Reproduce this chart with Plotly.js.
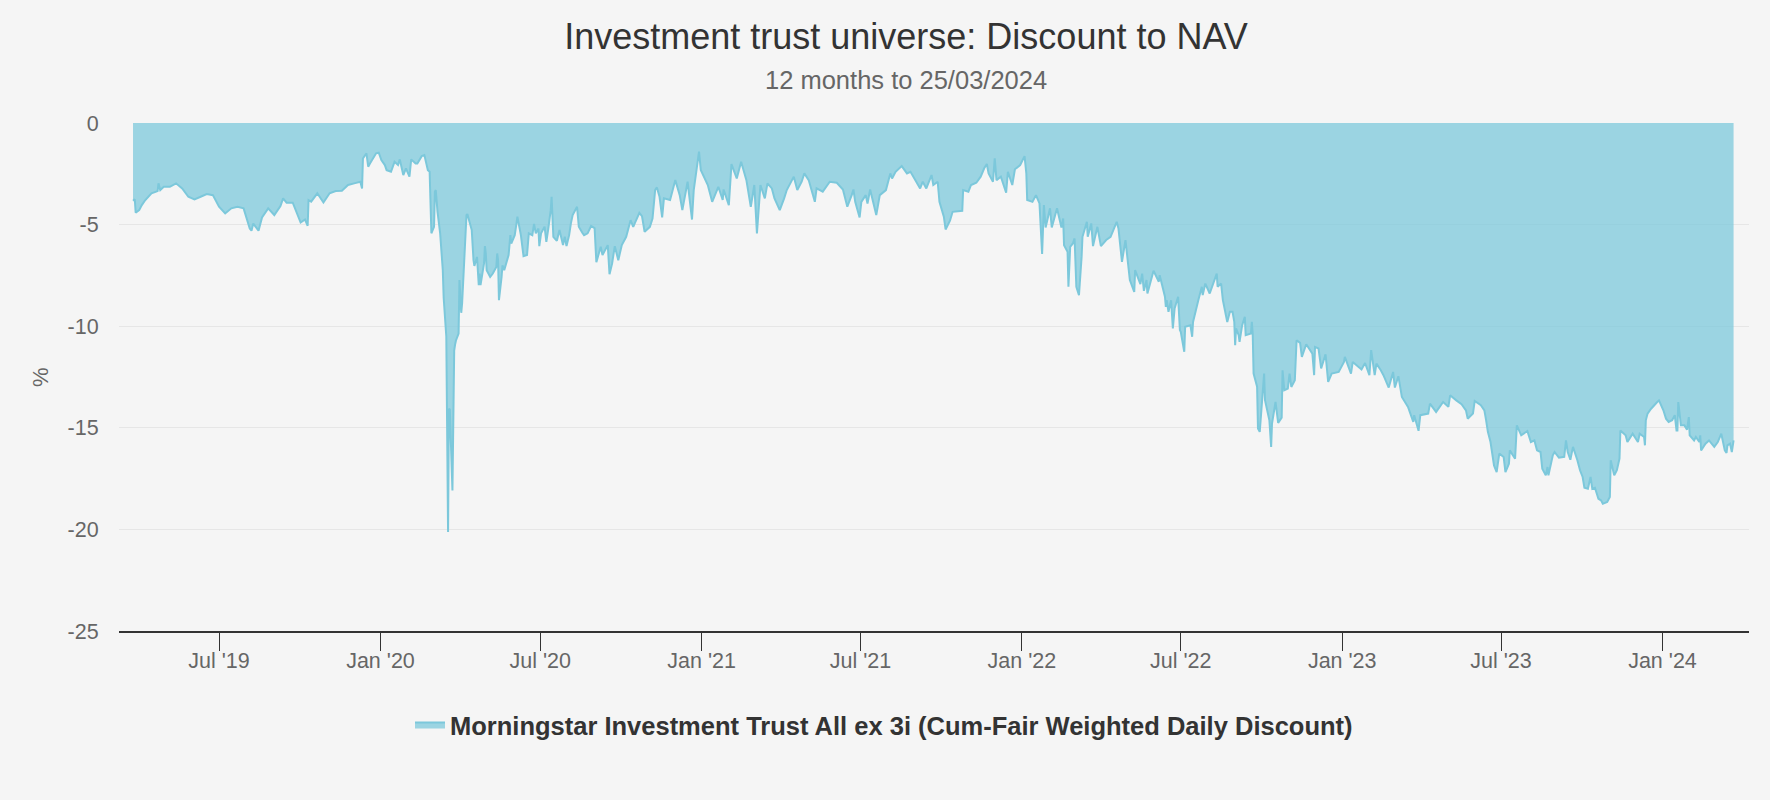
<!DOCTYPE html>
<html>
<head>
<meta charset="utf-8">
<script src="https://cdn.plot.ly/plotly-3.0.1.min.js"></script>
<style>
  html, body { margin: 0; padding: 0; background: #f5f5f5; }
  #chart { width: 1770px; height: 800px; }
</style>
</head>
<body>
<div id="chart"></div>
<script>
const TITLE = 'Investment trust universe: Discount to NAV';
const SUBTITLE = '12 months to 25/03/2024';
const SERIES_NAME = 'Morningstar Investment Trust All ex 3i (Cum-Fair Weighted Daily Discount)';
const Y_TITLE = '%';

const tickDates = ['2019-07-01','2020-01-01','2020-07-01','2021-01-01','2021-07-01','2022-01-01','2022-07-01','2023-01-01','2023-07-01','2024-01-01'];
const tickLabels = ["Jul '19","Jan '20","Jul '20","Jan '21","Jul '21","Jan '22","Jul '22","Jan '23","Jul '23","Jan '24"];
const yTicks = [0, -5, -10, -15, -20, -25];

const d2019 = ['2019-03-25','2019-03-27','2019-03-28','2019-04-01','2019-04-04','2019-04-08','2019-04-15','2019-04-22','2019-04-23','2019-04-25','2019-04-29','2019-05-06','2019-05-13','2019-05-20','2019-05-27','2019-06-03','2019-06-10','2019-06-17','2019-06-24','2019-07-01','2019-07-08','2019-07-15','2019-07-22','2019-07-29','2019-08-05','2019-08-07','2019-08-09','2019-08-12','2019-08-15','2019-08-19','2019-08-26','2019-09-02','2019-09-09','2019-09-12','2019-09-16','2019-09-23','2019-09-30','2019-10-02','2019-10-07','2019-10-10','2019-10-11','2019-10-14','2019-10-21','2019-10-28','2019-11-04','2019-11-11','2019-11-18','2019-11-25','2019-12-02','2019-12-09','2019-12-11','2019-12-12','2019-12-16','2019-12-18','2019-12-20','2019-12-23','2019-12-27','2019-12-30'];
const v2019 = [-3.83,-3.75,-4.42,-4.29,-4.04,-3.79,-3.46,-3.35,-2.97,-3.30,-3.14,-3.14,-2.97,-3.22,-3.63,-3.76,-3.63,-3.50,-3.55,-4.12,-4.45,-4.20,-4.12,-4.20,-5.19,-5.30,-4.95,-5.11,-5.30,-4.65,-4.20,-4.53,-4.09,-3.71,-3.92,-3.92,-4.75,-4.90,-4.75,-5.06,-3.80,-3.87,-3.46,-3.91,-3.46,-3.35,-3.33,-3.05,-2.97,-2.89,-3.22,-1.75,-1.49,-2.15,-1.99,-1.79,-1.49,-1.46];

const d2020 = ['2020-01-02','2020-01-06','2020-01-08','2020-01-13','2020-01-17','2020-01-21','2020-01-23','2020-01-27','2020-01-30','2020-02-03','2020-02-05','2020-02-10','2020-02-12','2020-02-17','2020-02-20','2020-02-24','2020-02-26','2020-02-28','2020-03-02','2020-03-03','2020-03-04','2020-03-06','2020-03-09','2020-03-12','2020-03-13','2020-03-16','2020-03-17','2020-03-18','2020-03-19','2020-03-20','2020-03-23','2020-03-24','2020-03-25','2020-03-26','2020-03-27','2020-03-30','2020-03-31','2020-04-01','2020-04-02','2020-04-03','2020-04-06','2020-04-07','2020-04-08','2020-04-09','2020-04-14','2020-04-16','2020-04-17','2020-04-20','2020-04-22','2020-04-23','2020-04-24','2020-04-28','2020-04-29','2020-04-30','2020-05-01','2020-05-05','2020-05-08','2020-05-12','2020-05-13','2020-05-14','2020-05-15','2020-05-18','2020-05-19','2020-05-21','2020-05-26','2020-05-27','2020-05-28','2020-05-29','2020-06-02','2020-06-04','2020-06-05','2020-06-09','2020-06-12','2020-06-16','2020-06-18','2020-06-22','2020-06-24','2020-06-26','2020-06-29','2020-06-30','2020-07-02','2020-07-06','2020-07-08','2020-07-10','2020-07-13','2020-07-14','2020-07-15','2020-07-16','2020-07-20','2020-07-23','2020-07-27','2020-07-29','2020-07-31','2020-08-03','2020-08-05','2020-08-07','2020-08-12','2020-08-14','2020-08-18','2020-08-20','2020-08-24','2020-08-26','2020-08-28','2020-09-01','2020-09-03','2020-09-08','2020-09-10','2020-09-16','2020-09-18','2020-09-21','2020-09-24','2020-09-28','2020-10-02','2020-10-07','2020-10-12','2020-10-15','2020-10-22','2020-10-25','2020-10-28','2020-11-03','2020-11-06','2020-11-09','2020-11-11','2020-11-14','2020-11-17','2020-11-19','2020-11-26','2020-12-02','2020-12-07','2020-12-10','2020-12-16','2020-12-18','2020-12-21','2020-12-23','2020-12-29','2020-12-31'];
const v2020 = [-1.82,-2.07,-2.32,-2.40,-1.91,-2.07,-1.79,-2.56,-2.23,-2.64,-1.79,-1.99,-1.99,-1.63,-1.58,-2.32,-2.40,-5.43,-5.11,-3.38,-3.30,-4.37,-5.43,-7.24,-8.60,-10.50,-16.30,-20.13,-14.06,-14.10,-18.08,-14.50,-11.20,-10.90,-10.70,-10.36,-7.73,-8.55,-9.34,-8.88,-6.09,-5.52,-4.53,-4.48,-5.27,-6.75,-7.03,-6.59,-7.98,-7.41,-7.98,-6.91,-6.06,-6.42,-7.24,-7.57,-7.41,-7.08,-6.42,-6.75,-8.72,-7.57,-7.00,-7.24,-6.50,-6.01,-5.52,-5.93,-5.52,-4.94,-4.61,-5.52,-6.55,-6.50,-5.43,-5.52,-4.97,-5.43,-5.19,-6.06,-5.43,-5.10,-5.85,-5.27,-4.29,-3.63,-4.78,-5.60,-5.80,-5.27,-6.01,-5.60,-6.06,-5.52,-4.94,-4.53,-4.12,-5.10,-5.40,-5.52,-5.43,-5.27,-5.07,-5.17,-6.85,-6.09,-6.50,-6.01,-7.44,-6.90,-6.06,-6.75,-6.01,-5.60,-4.78,-5.11,-4.42,-4.58,-5.35,-5.11,-4.70,-3.30,-3.17,-3.63,-4.65,-3.71,-3.79,-2.81,-3.55,-4.29,-2.89,-3.63,-4.75,-3.30,-1.41,-2.31];

const d2021 = ['2021-01-05','2021-01-08','2021-01-13','2021-01-20','2021-01-25','2021-01-26','2021-02-01','2021-02-04','2021-02-10','2021-02-15','2021-02-21','2021-02-26','2021-03-02','2021-03-05','2021-03-09','2021-03-14','2021-03-17','2021-03-22','2021-03-25','2021-03-31','2021-04-05','2021-04-08','2021-04-16','2021-04-20','2021-04-25','2021-04-28','2021-05-03','2021-05-10','2021-05-12','2021-05-19','2021-05-27','2021-06-04','2021-06-11','2021-06-16','2021-06-21','2021-06-23','2021-06-25','2021-06-30','2021-07-02','2021-07-07','2021-07-09','2021-07-12','2021-07-19','2021-07-23','2021-07-30','2021-08-04','2021-08-06','2021-08-10','2021-08-17','2021-08-23','2021-08-27','2021-09-03','2021-09-07','2021-09-10','2021-09-14','2021-09-20','2021-09-22','2021-09-27','2021-09-29','2021-10-04','2021-10-06','2021-10-11','2021-10-14','2021-10-25','2021-10-26','2021-11-01','2021-11-04','2021-11-10','2021-11-15','2021-11-19','2021-11-22','2021-11-24','2021-11-29','2021-12-01','2021-12-03','2021-12-08','2021-12-14','2021-12-16','2021-12-21','2021-12-24','2021-12-30'];
const v2021 = [-2.81,-3.05,-3.88,-3.14,-3.79,-3.27,-4.04,-2.02,-2.73,-1.91,-2.81,-4.12,-3.05,-5.43,-3.05,-3.71,-2.97,-3.22,-3.71,-4.29,-3.71,-3.30,-2.64,-3.30,-2.89,-2.48,-2.81,-3.88,-3.22,-3.38,-2.89,-2.94,-3.27,-4.12,-3.55,-3.27,-3.88,-4.65,-3.88,-3.55,-3.96,-3.27,-4.53,-3.55,-3.30,-2.48,-2.73,-2.40,-2.12,-2.48,-2.40,-2.97,-3.22,-2.89,-3.22,-2.56,-3.05,-2.89,-3.88,-4.61,-5.24,-4.81,-4.37,-4.32,-3.30,-3.38,-3.05,-2.94,-2.64,-2.23,-2.02,-2.48,-2.89,-1.74,-2.81,-2.64,-3.43,-2.40,-3.05,-2.28,-2.07];

const d2022 = ['2022-01-04','2022-01-06','2022-01-07','2022-01-13','2022-01-17','2022-01-21','2022-01-24','2022-01-26','2022-01-28','2022-02-02','2022-02-04','2022-02-10','2022-02-15','2022-02-17','2022-02-18','2022-02-22','2022-02-23','2022-02-25','2022-02-28','2022-03-02','2022-03-04','2022-03-07','2022-03-10','2022-03-11','2022-03-16','2022-03-17','2022-03-21','2022-03-23','2022-03-28','2022-04-01','2022-04-07','2022-04-12','2022-04-19','2022-04-21','2022-04-25','2022-04-29','2022-05-04','2022-05-09','2022-05-10','2022-05-16','2022-05-18','2022-05-20','2022-05-23','2022-05-24','2022-05-31','2022-06-06','2022-06-07','2022-06-13','2022-06-14','2022-06-15','2022-06-17','2022-06-20','2022-06-22','2022-06-24','2022-06-28','2022-06-30','2022-07-01','2022-07-05','2022-07-06','2022-07-12','2022-07-14','2022-07-15','2022-07-21','2022-07-25','2022-07-26','2022-07-29','2022-08-03','2022-08-11','2022-08-12','2022-08-16','2022-08-18','2022-08-23','2022-08-26','2022-08-29','2022-08-31','2022-09-01','2022-09-02','2022-09-05','2022-09-06','2022-09-09','2022-09-12','2022-09-13','2022-09-19','2022-09-20','2022-09-21','2022-09-22','2022-09-26','2022-09-27','2022-09-29','2022-10-03','2022-10-04','2022-10-05','2022-10-10','2022-10-12','2022-10-13','2022-10-17','2022-10-20','2022-10-24','2022-10-25','2022-10-27','2022-10-31','2022-11-02','2022-11-04','2022-11-08','2022-11-10','2022-11-14','2022-11-16','2022-11-21','2022-11-28','2022-11-30','2022-12-01','2022-12-05','2022-12-08','2022-12-13','2022-12-16','2022-12-20','2022-12-28'];
const v2022 = [-1.63,-2.48,-3.79,-3.88,-3.55,-3.96,-6.45,-4.04,-5.14,-4.20,-5.14,-4.20,-5.14,-4.70,-6.01,-6.34,-8.06,-6.09,-5.93,-5.68,-8.06,-8.47,-6.59,-5.60,-4.86,-5.60,-4.94,-6.06,-5.11,-6.06,-5.76,-5.60,-4.86,-5.19,-6.83,-5.76,-7.73,-8.31,-7.24,-7.93,-7.41,-8.26,-7.73,-8.39,-7.27,-7.81,-7.49,-8.55,-9.05,-8.72,-9.29,-8.72,-10.11,-9.13,-8.55,-10.19,-10.28,-11.26,-10.03,-9.95,-10.52,-9.79,-8.72,-8.06,-8.47,-7.90,-8.39,-7.41,-8.06,-7.90,-8.72,-9.79,-9.29,-9.29,-9.79,-10.94,-10.11,-10.44,-10.77,-9.95,-9.54,-10.44,-10.36,-9.79,-10.36,-12.33,-12.98,-15.04,-15.20,-13.15,-12.33,-13.64,-14.63,-15.94,-14.79,-13.73,-14.76,-14.50,-12.17,-13.15,-13.07,-12.33,-12.99,-12.66,-10.69,-10.82,-11.51,-10.89,-11.35,-12.41,-11.02,-11.10,-12.08,-11.38,-12.74,-12.33,-12.25];

const d2023 = ['2023-01-03','2023-01-04','2023-01-11','2023-01-13','2023-01-23','2023-01-27','2023-02-01','2023-02-03','2023-02-07','2023-02-09','2023-02-14','2023-02-17','2023-02-23','2023-02-28','2023-03-02','2023-03-06','2023-03-10','2023-03-17','2023-03-23','2023-03-24','2023-03-29','2023-03-31','2023-04-09','2023-04-11','2023-04-18','2023-04-26','2023-05-02','2023-05-04','2023-05-11','2023-05-17','2023-05-22','2023-05-24','2023-05-30','2023-06-01','2023-06-08','2023-06-12','2023-06-14','2023-06-16','2023-06-19','2023-06-21','2023-06-23','2023-06-26','2023-06-28','2023-06-29','2023-07-04','2023-07-06','2023-07-10','2023-07-11','2023-07-17','2023-07-19','2023-07-24','2023-07-31','2023-08-04','2023-08-08','2023-08-11','2023-08-15','2023-08-17','2023-08-21','2023-08-23','2023-08-24','2023-08-29','2023-08-31','2023-09-05','2023-09-11','2023-09-13','2023-09-15','2023-09-18','2023-09-21','2023-09-26','2023-09-29','2023-10-02','2023-10-04','2023-10-08','2023-10-11','2023-10-13','2023-10-16','2023-10-20','2023-10-23','2023-10-25','2023-10-30','2023-11-02','2023-11-03','2023-11-07','2023-11-10','2023-11-13','2023-11-14','2023-11-20','2023-11-22','2023-11-28','2023-12-04','2023-12-06','2023-12-11','2023-12-12','2023-12-13','2023-12-15','2023-12-19','2023-12-26','2023-12-28'];
const v2023 = [-11.76,-11.51,-12.33,-11.76,-12.13,-11.81,-12.41,-11.18,-12.41,-11.84,-12.17,-12.41,-13.02,-12.25,-13.02,-12.46,-13.48,-13.97,-14.71,-14.38,-15.15,-14.38,-14.30,-13.81,-14.22,-13.73,-13.97,-13.40,-13.65,-13.84,-14.14,-14.55,-14.30,-13.68,-13.89,-14.14,-14.63,-15.20,-15.70,-16.27,-16.85,-17.18,-16.60,-16.27,-16.44,-17.18,-16.77,-16.11,-16.52,-14.88,-15.37,-15.16,-15.70,-15.62,-16.11,-16.19,-17.01,-17.34,-16.93,-17.34,-16.35,-16.19,-16.47,-16.43,-15.62,-16.19,-16.57,-15.94,-16.60,-17.09,-17.42,-17.95,-18.00,-17.42,-18.00,-17.95,-18.49,-18.57,-18.74,-18.65,-18.41,-16.60,-17.34,-17.09,-16.52,-15.13,-15.37,-15.70,-15.29,-15.70,-15.29,-15.45,-15.86,-14.63,-14.30,-14.06,-13.73,-13.65];

const d2024 = ['2024-01-02','2024-01-05','2024-01-08','2024-01-12','2024-01-15','2024-01-17','2024-01-18','2024-01-19','2024-01-22','2024-01-26','2024-01-29','2024-01-31','2024-02-01','2024-02-06','2024-02-08','2024-02-12','2024-02-13','2024-02-14','2024-02-19','2024-02-23','2024-02-29','2024-03-04','2024-03-08','2024-03-12','2024-03-14','2024-03-15','2024-03-18','2024-03-20','2024-03-22'];
const v2024 = [-14.14,-14.55,-14.71,-14.63,-14.38,-15.13,-15.13,-13.73,-14.88,-14.88,-15.09,-14.47,-15.37,-15.62,-15.45,-15.70,-15.37,-16.11,-15.78,-15.62,-15.94,-15.70,-15.29,-16.11,-16.24,-15.86,-15.78,-16.19,-15.62];

const dates = [].concat(d2019, d2020, d2021, d2022, d2023, d2024);
const discount = [].concat(v2019, v2020, v2021, v2022, v2023, v2024);

const FONT = '"Liberation Sans", Arial, Helvetica, sans-serif';

const trace = {
  type: 'scatter',
  mode: 'lines',
  x: dates,
  y: discount,
  name: SERIES_NAME,
  fill: 'tozeroy',
  fillcolor: 'rgba(124,200,219,0.75)',
  line: { color: '#7cc8db', width: 2 },
  hoverinfo: 'skip'
};

const layout = {
  width: 1770,
  height: 800,
  paper_bgcolor: '#f5f5f5',
  plot_bgcolor: '#f5f5f5',
  margin: { l: 119, r: 21, t: 123, b: 169, pad: 0 },
  font: { family: FONT, color: '#666' },
  title: {
    text: TITLE,
    font: { family: FONT, size: 36, color: '#333' },
    xref: 'container', x: 906 / 1770, xanchor: 'center',
    yref: 'container', y: 1 - 36 / 800, yanchor: 'middle'
  },
  xaxis: {
    type: 'date',
    range: ['2019-03-09', '2024-04-08 14:00'],
    tickmode: 'array',
    tickvals: tickDates,
    ticktext: tickLabels,
    ticks: 'outside', ticklen: 18, tickwidth: 1, tickcolor: '#333',
    ticklabelstandoff: -9,
    showline: true, linecolor: '#333', linewidth: 2,
    showgrid: false, zeroline: false,
    tickfont: { family: FONT, size: 21.5, color: '#666' },
    fixedrange: true
  },
  yaxis: {
    range: [-25, 0],
    tickmode: 'array',
    tickvals: yTicks,
    ticktext: yTicks.map(String),
    showgrid: true, gridcolor: '#e6e6e6', gridwidth: 1,
    zeroline: false, showline: false,
    ticks: 'outside', ticklen: 15, tickcolor: 'rgba(0,0,0,0)',
    tickfont: { family: FONT, size: 21.5, color: '#666' },
    fixedrange: true
  },
  showlegend: true,
  legend: {
    orientation: 'h',
    xref: 'container', x: 884 / 1770, xanchor: 'center',
    yref: 'container', y: 1 - 725 / 800, yanchor: 'middle',
    font: { family: FONT, size: 25.5, color: '#333', weight: 'bold' },
    bgcolor: 'rgba(0,0,0,0)'
  },
  annotations: [
    {
      text: SUBTITLE,
      xref: 'paper', yref: 'paper',
      x: (906 - 119) / 1630, xanchor: 'center',
      y: (631 - 80) / 508, yanchor: 'middle',
      showarrow: false,
      font: { family: FONT, size: 25.5, color: '#666' }
    },
    {
      text: Y_TITLE,
      xref: 'paper', yref: 'paper',
      x: (40 - 119) / 1630, xanchor: 'center',
      y: 0.5, yanchor: 'middle',
      textangle: -90,
      showarrow: false,
      font: { family: FONT, size: 22, color: '#666' }
    }
  ]
};

Plotly.newPlot('chart', [trace], layout, { staticPlot: true, displayModeBar: false });
</script>
</body>
</html>
